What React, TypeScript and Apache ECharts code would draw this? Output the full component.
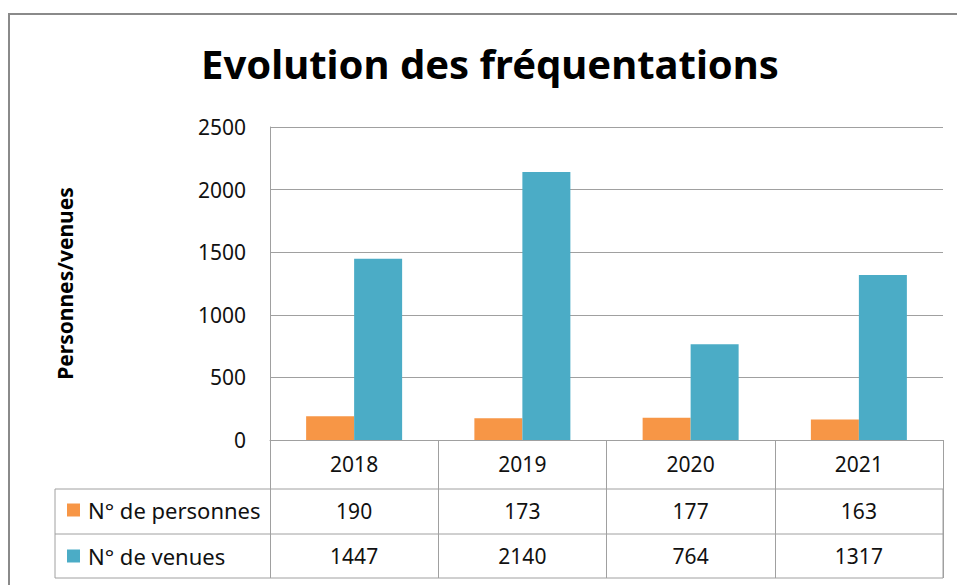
import React, { useEffect, useRef } from "react";
import * as echarts from "echarts";

const years = ["2018", "2019", "2020", "2021"];
const personnes = [190, 173, 177, 163];
const venues = [1447, 2140, 764, 1317];
const seriesNames = ["N° de personnes", "N° de venues"];
const titleText = "Evolution des fréquentations";
const yAxisName = "Personnes/venues";

const FONT = "Noto Sans";
const GRID = "#a0a0a0";

export default function App() {
  const ref = useRef<HTMLDivElement>(null);
  useEffect(() => {
    if (!ref.current) return;
    const chart = echarts.init(ref.current, undefined, { renderer: "svg" });
    const tableLabel = (data: number[], offset: number) => ({
      type: "category",
      data: data.map(String),
      position: "bottom",
      offset,
      axisLine: { show: false },
      axisTick: { show: false },
      splitLine: { show: false },
      axisLabel: {
        margin: 24,
        verticalAlign: "middle",
        fontFamily: FONT,
        fontSize: 21,
        color: "#111",
      },
    });
    chart.setOption({
      animation: false,
      backgroundColor: "#fff",
      title: {
        text: titleText,
        left: 485,
        top: 38,
        textAlign: "center",
        textStyle: { fontFamily: FONT, fontWeight: "bold", fontSize: 40, color: "#000" },
      },
      legend: {
        orient: "vertical",
        left: 62,
        top: 494,
        itemWidth: 13,
        itemHeight: 13,
        itemGap: 24,
        icon: "rect",
        selectedMode: false,
        data: seriesNames,
        textStyle: { fontFamily: FONT, fontSize: 22, color: "#111", padding: [0, 0, 0, 3] },
      },
      grid: { left: 270, right: 14, top: 127, bottom: 145, containLabel: false },
      xAxis: [
        {
          type: "category",
          data: years,
          axisLine: { show: true, lineStyle: { color: GRID, width: 1 } },
          axisTick: { show: true, length: 138, lineStyle: { color: GRID } },
          axisLabel: {
            margin: 24,
            verticalAlign: "middle",
            fontFamily: FONT,
            fontSize: 21,
            color: "#111",
          },
        },
        tableLabel(personnes, 47),
        tableLabel(venues, 92),
      ],
      yAxis: {
        type: "value",
        min: 0,
        max: 2500,
        interval: 500,
        name: yAxisName,
        nameLocation: "middle",
        nameRotate: 90,
        nameGap: 195,
        nameTextStyle: { fontFamily: FONT, fontWeight: "bold", fontSize: 21, color: "#000" },
        axisLine: { show: true, lineStyle: { color: GRID } },
        axisTick: { show: false },
        splitLine: { lineStyle: { color: GRID } },
        axisLabel: {
          margin: 24,
          fontFamily: FONT,
          fontSize: 21,
          color: "#111",
          formatter: (v: number) => String(v),
        },
      },
      series: [
        {
          name: seriesNames[0],
          type: "bar",
          data: personnes,
          barWidth: 48,
          barGap: "0%",
          itemStyle: { color: "#F79646" },
        },
        {
          name: seriesNames[1],
          type: "bar",
          data: venues,
          barWidth: 48,
          barGap: "0%",
          itemStyle: { color: "#4BACC6" },
        },
      ],
      graphic: [
        {
          type: "rect",
          shape: { x: 9, y: 14, width: 1000, height: 700 },
          style: { fill: "none", stroke: "#8a8a8a", lineWidth: 2 },
          silent: true,
        },
        {
          type: "rect",
          shape: { x: 55, y: 489, width: 888, height: 89 },
          style: { fill: "none", stroke: GRID, lineWidth: 1 },
          silent: true,
        },
        {
          type: "line",
          shape: { x1: 55, y1: 534, x2: 943, y2: 534 },
          style: { stroke: GRID, lineWidth: 1 },
          silent: true,
        },
      ],
    });
    return () => chart.dispose();
  }, []);
  return (
    <div
      ref={ref}
      style={{ position: "fixed", left: 0, top: 0, width: 957, height: 585 }}
    />
  );
}
